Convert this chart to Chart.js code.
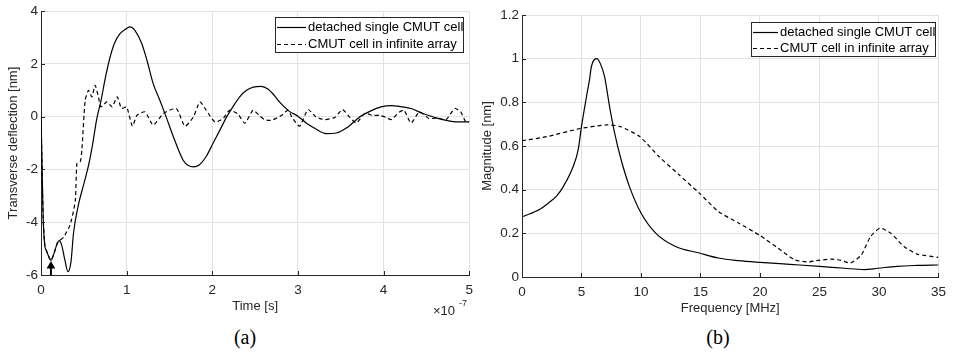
<!DOCTYPE html>
<html>
<head>
<meta charset="utf-8">
<script src="https://cdn.jsdelivr.net/npm/chart.js"></script>
<style>
  body { margin: 0; background: #fff; width: 953px; height: 356px; position: relative; overflow: hidden; }
  canvas { position: absolute; top: 0; }
  #left { left: 0; }
  #right { left: 480px; }
  .cap { position: absolute; top: 326px; font: 20px "Liberation Serif", "DejaVu Serif", serif; color: #000; transform: translateX(-50%); }
</style>
</head>
<body>
<canvas id="left" width="480" height="320"></canvas>
<canvas id="right" width="473" height="320"></canvas>
<div class="cap" style="left:245px">(a)</div>
<div class="cap" style="left:718px">(b)</div>
<script>
// (a) time in units of 1e-7 s, deflection in nm
const timeSingle = [0, 0.01, 0.025, 0.045, 0.06, 0.09, 0.116, 0.15, 0.19, 0.213, 0.24, 0.28, 0.314, 0.35, 0.38, 0.44, 0.5, 0.555, 0.6, 0.65, 0.7, 0.75, 0.807, 0.86, 0.92, 0.98, 1.04, 1.1, 1.176, 1.24, 1.31, 1.39, 1.46, 1.55, 1.66, 1.72, 1.78, 1.85, 1.93, 2.01, 2.09, 2.17, 2.24, 2.32, 2.4, 2.48, 2.57, 2.65, 2.72, 2.8, 2.9, 3.0, 3.1, 3.2, 3.33, 3.45, 3.58, 3.72, 3.85, 3.97, 4.09, 4.2, 4.33, 4.456, 4.6, 4.73, 4.87, 5.0];
const deflSingle = [0, -1.5, -3.8, -4.9, -5.05, -5.3, -5.45, -5.2, -4.8, -4.7, -4.85, -5.45, -5.87, -5.5, -4.4, -3.3, -2.55, -1.85, -1.1, -0.1, 0.6, 1.45, 2.26, 2.8, 3.14, 3.3, 3.4, 3.25, 2.77, 2.1, 1.25, 0.6, 0.0, -0.8, -1.65, -1.85, -1.9, -1.82, -1.5, -1.0, -0.5, 0.0, 0.37, 0.75, 1.0, 1.12, 1.15, 1.05, 0.82, 0.5, 0.2, 0.02, -0.25, -0.45, -0.64, -0.62, -0.4, -0.01, 0.22, 0.37, 0.42, 0.38, 0.3, 0.12, -0.03, -0.14, -0.2, -0.2];
const timeArray = [0, 0.01, 0.025, 0.045, 0.06, 0.09, 0.116, 0.15, 0.19, 0.213, 0.264, 0.34, 0.40, 0.42, 0.458, 0.477, 0.516, 0.555, 0.594, 0.632, 0.67, 0.70, 0.77, 0.83, 0.89, 0.94, 1.0, 1.067, 1.12, 1.215, 1.31, 1.43, 1.58, 1.68, 1.78, 1.855, 1.93, 2.03, 2.127, 2.2, 2.3, 2.38, 2.476, 2.55, 2.61, 2.69, 2.81, 2.88, 2.94, 3.02, 3.117, 3.21, 3.31, 3.43, 3.52, 3.6, 3.68, 3.78, 3.87, 3.95, 4.03, 4.09, 4.185, 4.24, 4.32, 4.42, 4.53, 4.63, 4.73, 4.83, 4.9, 4.96, 5.0];
const deflArray = [0, -1.5, -3.8, -4.9, -5.05, -5.3, -5.45, -5.2, -4.8, -4.7, -4.57, -4.1, -3.2, -1.77, -1.71, -1.27, 0.62, 1.0, 0.75, 1.19, 0.75, 0.37, 0.56, 0.37, 0.75, 0.31, 0.37, -0.36, 0.05, 0.18, -0.32, 0.12, 0.31, -0.36, -0.01, 0.56, 0.24, -0.2, -0.07, 0.24, 0.1, -0.25, 0.24, 0.04, -0.11, -0.14, 0.05, 0.24, -0.07, -0.36, 0.27, -0.01, -0.11, -0.03, 0.27, -0.01, -0.24, 0.12, 0.05, 0.05, -0.03, -0.11, 0.18, 0.24, -0.24, 0.18, -0.07, -0.05, -0.11, 0.31, 0.18, -0.2, -0.2];
// excitation marker (arrow) position
const arrowTime = [0.116, 0.116];
const arrowDefl = [-6, -5.66];

// (b) frequency in MHz, magnitude in nm
const freqSingle = [0.1, 1.5, 2.2, 2.9, 3.47, 4.3, 4.72, 5.0, 5.42, 5.69, 5.83, 6.3, 6.6, 6.94, 7.36, 7.78, 8.33, 9.03, 10, 11.25, 12.9, 14.9, 16.5, 18.2, 20, 22.5, 25, 27.1, 28.75, 29.9, 31.5, 33.2, 35];
const magSingle = [0.277, 0.31, 0.338, 0.37, 0.414, 0.506, 0.582, 0.69, 0.826, 0.91, 0.963, 1.0, 0.975, 0.918, 0.78, 0.66, 0.537, 0.414, 0.293, 0.2, 0.14, 0.11, 0.087, 0.075, 0.067, 0.058, 0.049, 0.04, 0.034, 0.04, 0.049, 0.053, 0.055];
const freqArray = [0, 2.1, 4.9, 7.1, 8.2, 9.9, 11.5, 13.2, 14.9, 16.5, 18.2, 20, 21.5, 22.9, 24, 24.9, 26, 26.8, 27.6, 28.5, 29.3, 30.1, 31, 32.1, 33.2, 35];
const magArray = [0.624, 0.643, 0.68, 0.697, 0.69, 0.643, 0.552, 0.468, 0.384, 0.30, 0.247, 0.19, 0.133, 0.079, 0.069, 0.076, 0.082, 0.076, 0.064, 0.10, 0.186, 0.224, 0.2, 0.14, 0.105, 0.09];

const labelSingle = 'detached single CMUT cell';
const labelArray = 'CMUT cell in infinite array';

const FONT = '"Liberation Sans", Arial, sans-serif';
const TXT = '#262626';

const xy = (xs, ys) => xs.map((x, i) => ({x: x, y: ys[i]}));

// matlab-like decorations: inward ticks, boxed legend, exponent label
const decor = {
    id: 'decor',
    afterDraw(chart, args, opts) {
        const ctx = chart.ctx, a = chart.chartArea;
        const xs = chart.scales.x, ys = chart.scales.y;
        ctx.save();
        ctx.strokeStyle = TXT;
        ctx.lineWidth = 1;
        ctx.beginPath();
        xs.ticks.forEach(t => {
            const p = Math.round(xs.getPixelForValue(t.value)) + 0.5;
            ctx.moveTo(p, a.bottom); ctx.lineTo(p, a.bottom - 4);
        });
        ys.ticks.forEach(t => {
            const p = Math.round(ys.getPixelForValue(t.value)) + 0.5;
            ctx.moveTo(a.left, p); ctx.lineTo(a.left + 4, p);
        });
        ctx.stroke();

        const L = opts.legend;
        ctx.fillStyle = '#fff';
        ctx.fillRect(L.x, L.y, L.w, L.h);
        ctx.strokeStyle = '#262626';
        ctx.strokeRect(L.x + 0.5, L.y + 0.5, L.w, L.h);
        ctx.font = '13px ' + FONT;
        ctx.textBaseline = 'middle';
        chart.data.datasets.filter(d => d.label).forEach((d, i) => {
            const y = Math.round(L.y + L.row0 + i * L.rowH) + 0.5;
            ctx.setLineDash(d.borderDash || []);
            ctx.lineWidth = d.borderWidth;
            ctx.strokeStyle = d.borderColor;
            ctx.beginPath();
            ctx.moveTo(L.x + 2, y); ctx.lineTo(L.x + 2 + L.sample, y);
            ctx.stroke();
            ctx.setLineDash([]);
            ctx.fillStyle = '#000';
            ctx.fillText(d.label, L.x + L.sample + 4, y);
        });

        if (opts.exponent) {
            ctx.fillStyle = TXT;
            ctx.textBaseline = 'middle';
            ctx.font = '13px ' + FONT;
            ctx.fillText('\u00d710', 433, 311);
            ctx.font = '9px ' + FONT;
            ctx.fillText('-7', 459, 304);
        }
        ctx.restore();
    }
};

function axis(min, max, step, title, titlePad, size, isX) {
    return {
        type: 'linear', min: min, max: max,
        ticks: {stepSize: step, color: TXT, padding: isX ? 7 : 3, font: {family: FONT, size: 13.5},
                callback: v => String(Math.round(v * 10) / 10)},
        grid: {color: '#e2e2e2', drawTicks: false},
        border: {color: TXT, width: 1},
        title: {display: true, text: title, color: TXT, font: {family: FONT, size: 13}, padding: titlePad},
        afterFit(s) { if (isX) s.height = size; else s.width = size; }
    };
}

function lineSet(label, data, dashed) {
    return {
        label: label, data: data, borderColor: '#000', borderWidth: 1.2,
        borderDash: dashed ? [4, 3] : [], pointRadius: 0, fill: false,
        cubicInterpolationMode: dashed ? 'default' : 'monotone', tension: dashed ? 0.2 : 0
    };
}

new Chart(document.getElementById('left'), {
    type: 'line',
    data: {
        datasets: [
            lineSet(labelSingle, xy(timeSingle, deflSingle), false),
            lineSet(labelArray, xy(timeArray, deflArray), true),
            {data: xy(arrowTime, arrowDefl), borderColor: '#000', borderWidth: 2, fill: false,
             pointRadius: [0, 5], pointStyle: 'triangle', pointBackgroundColor: '#000', pointBorderColor: '#000', pointBorderWidth: 0}
        ]
    },
    options: {
        responsive: false, animation: false,
        layout: {padding: {top: 11, right: 10, left: 0, bottom: 0}},
        plugins: {
            legend: {display: false}, tooltip: {enabled: false},
            decor: {legend: {x: 275, y: 17, w: 188, h: 35, row0: 10, rowH: 16.7, sample: 29}, exponent: true}
        },
        scales: {
            x: axis(0, 5, 1, 'Time [s]', {bottom: 6}, 45, true),
            y: axis(-6, 4, 2, 'Transverse deflection [nm]', {top: 6}, 41, false)
        }
    },
    plugins: [decor]
});

new Chart(document.getElementById('right'), {
    type: 'line',
    data: {
        datasets: [
            lineSet(labelSingle, xy(freqSingle, magSingle), false),
            lineSet(labelArray, xy(freqArray, magArray), true)
        ]
    },
    options: {
        responsive: false, animation: false,
        layout: {padding: {top: 15, right: 11, left: 0, bottom: 0}},
        plugins: {
            legend: {display: false}, tooltip: {enabled: false},
            decor: {legend: {x: 271, y: 22, w: 184, h: 34, row0: 10, rowH: 15.7, sample: 25}, exponent: false}
        },
        scales: {
            x: axis(0, 35, 5, 'Frequency [MHz]', {bottom: 4}, 43, true),
            y: axis(0, 1.2, 0.2, 'Magnitude [nm]', {top: 0}, 42, false)
        }
    },
    plugins: [decor]
});
</script>
</body>
</html>
